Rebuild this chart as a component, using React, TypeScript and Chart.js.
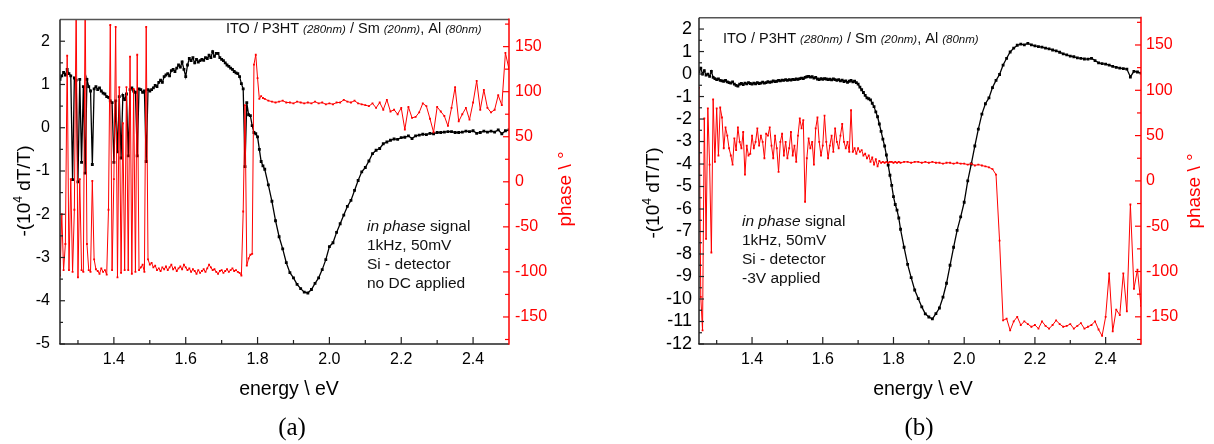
import React, { useEffect, useRef } from "react";
import { Chart, registerables } from "chart.js";

Chart.register(...registerables);

// ---------------- data ----------------
const energy = [
  1.25, 1.255, 1.26, 1.265, 1.27, 1.275, 1.28, 1.285, 1.29, 1.295,
  1.3, 1.305, 1.31, 1.315, 1.32, 1.325, 1.33, 1.335, 1.34, 1.345,
  1.35, 1.355, 1.36, 1.365, 1.37, 1.375, 1.38, 1.385, 1.39, 1.395,
  1.4, 1.405, 1.41, 1.415, 1.42, 1.425, 1.43, 1.435, 1.44, 1.445,
  1.45, 1.455, 1.46, 1.465, 1.47, 1.475, 1.48, 1.485, 1.49, 1.495,
  1.5, 1.505, 1.51, 1.515, 1.52, 1.525, 1.53, 1.535, 1.54, 1.545,
  1.55, 1.555, 1.56, 1.565, 1.57, 1.575, 1.58, 1.585, 1.59, 1.595,
  1.6, 1.605, 1.61, 1.615, 1.62, 1.625, 1.63, 1.635, 1.64, 1.645,
  1.65, 1.655, 1.66, 1.665, 1.67, 1.675, 1.68, 1.685, 1.69, 1.695,
  1.7, 1.705, 1.71, 1.715, 1.72, 1.725, 1.73, 1.735, 1.74, 1.745,
  1.75, 1.755, 1.76, 1.765, 1.77, 1.775, 1.78, 1.785, 1.79, 1.795,
  1.8, 1.805, 1.81, 1.815, 1.82,
  1.83, 1.84, 1.85, 1.86, 1.87, 1.88, 1.89,
  1.9, 1.91, 1.92, 1.93, 1.94, 1.95, 1.96, 1.97, 1.98, 1.99,
  2.0, 2.01, 2.02, 2.03, 2.04, 2.05, 2.06, 2.07, 2.08, 2.09,
  2.1, 2.11, 2.12, 2.13, 2.14, 2.15, 2.16, 2.17, 2.18, 2.19,
  2.2, 2.21, 2.22, 2.23, 2.24, 2.25, 2.26, 2.27, 2.28, 2.29,
  2.3, 2.31, 2.32, 2.33, 2.34, 2.35, 2.36, 2.37, 2.38, 2.39,
  2.4, 2.41, 2.42, 2.43, 2.44, 2.45, 2.46, 2.47, 2.48, 2.49,
  2.5,
];

// panel (a): -(10^4 dT/T), no DC applied
const dtA = [
  1.12, 1.2, 1.28, 1.22, 1.35, 1.25, 1.2, -1.2, 1.15, 1.1,
  -1.25, 1.12, -0.8, 0.95, -1.05, 1.12, 0.95, 0.85, -0.85, 0.9,
  0.95, 0.88, 0.92, 0.85, 0.8, 0.78, 0.72, 0.7, 0.62, 0.58,
  -0.8, 0.62, -0.56, 0.72, -0.7, 0.75, 0.65, 0.78, -0.65, 0.88,
  0.92, 0.85, 0.82, -0.65, 0.9, 0.88, 0.82, 0.85, -0.78, 0.88,
  0.85, 0.88, 0.92, 0.98, 0.95, 1.05, 1.1, 1.05, 1.18, 1.22,
  1.25, 1.2, 1.32, 1.35, 1.3, 1.38, 1.45, 1.4, 1.52, 1.35,
  1.18, 1.45, 1.6, 1.55, 1.62, 1.5, 1.58, 1.52, 1.55, 1.58,
  1.56, 1.62, 1.6, 1.68, 1.62, 1.76, 1.65, 1.72, 1.72, 1.62,
  1.58, 1.55, 1.5, 1.45, 1.42, 1.38, 1.35, 1.3, 1.27, 1.25,
  1.18, 1.02, 0.9, -0.9, 0.58, 0.3, 0.28, 0.05, -0.11, -0.14,
  -0.21, -0.5, -0.78, -0.88, -0.96,
  -1.32, -1.7, -2.15, -2.52, -2.8, -3.12, -3.35,
  -3.47, -3.62, -3.72, -3.8, -3.82, -3.74, -3.6, -3.47, -3.28, -3.05,
  -2.75, -2.66, -2.42, -2.22, -2.02, -1.82, -1.68, -1.45, -1.22, -1.02,
  -0.92, -0.77, -0.6, -0.52, -0.48, -0.37, -0.33, -0.29, -0.26, -0.27,
  -0.23, -0.22, -0.19, -0.25, -0.19, -0.17, -0.15, -0.16, -0.13, -0.14,
  -0.11, -0.11, -0.1, -0.09, -0.09, -0.11, -0.11, -0.1, -0.08, -0.09,
  -0.07, -0.13, -0.11, -0.08, -0.1, -0.08, -0.1, -0.05, -0.14, -0.07,
  -0.05,
];

// panel (a): phase in degrees
const phaseA = [
  -104, -36, -98, -69, 140, -98, 3, -100, -31, 200,
  -106, 3, -98, -100, 200, -69, -98, -100, 1, -86,
  -97, -99, -102, -96, -100, -98, -103, -31, 174, -98,
  3, 172, -106, 105, -101, 65, -98, 105, -98, 139,
  -102, 103, -100, 141, -98, -95, -92, -100, 172, -86,
  -92, -90, -95, -93, -98, -96, -99, -95, -97, -94,
  -98, -95, -92, -97, -95, -99, -96, -94, -97, -92,
  -95, -98, -96, -100, -97, -99, -102, -98, -101, -99,
  -97, -100, -96, -92, -95, -98, -97, -100, -102, -99,
  -98, -101, -99, -97, -100, -98, -96, -99, -98, -100,
  -101, -104, -33, 85, -93, -85, -81, -80, 130, 141,
  115, 92, 95, 93, 92,
  90, 89, 88, 89, 90, 88, 88,
  87, 89, 88, 87, 88, 87, 89, 87, 88, 86,
  87, 86, 88, 88, 91, 89, 88, 90, 87, 86,
  85, 84, 87, 82, 88, 80, 91, 78, 80, 75,
  82, 58, 83, 71, 72, 77, 87, 84, 70, 55,
  83, 78, 73, 62, 82, 105, 67, 75, 82, 69,
  88, 112, 80, 102, 82, 77, 80, 96, 85, 143,
  125,
];

// panel (b): -(10^4 dT/T), -3V applied
const dtB = [
  0.1, 0.26, 0.0, 0.15, -0.05, 0.0, -0.1, 0.12, -0.15, -0.2,
  -0.25, -0.22, -0.28, -0.3, -0.32, -0.28, -0.35, -0.38, -0.4, -0.35,
  -0.45, -0.5, -0.54, -0.45, -0.42, -0.47, -0.4, -0.44, -0.38, -0.42,
  -0.45, -0.4, -0.43, -0.38, -0.42, -0.4, -0.36, -0.4, -0.38, -0.34,
  -0.37, -0.35, -0.3, -0.34, -0.32, -0.28, -0.3, -0.27, -0.28, -0.25,
  -0.28, -0.25, -0.27, -0.24, -0.25, -0.22, -0.24, -0.2, -0.18, -0.2,
  -0.15, -0.12, -0.1, -0.14, -0.12, -0.18, -0.15, -0.22, -0.25, -0.2,
  -0.23, -0.2, -0.22, -0.25, -0.23, -0.26, -0.22, -0.25, -0.28, -0.25,
  -0.3, -0.27, -0.33, -0.3, -0.37, -0.32, -0.28, -0.35, -0.32, -0.38,
  -0.45, -0.58, -0.7, -0.82, -0.95, -1.06, -1.1, -1.15, -1.3, -1.45,
  -1.68, -1.9, -2.22, -2.55, -2.89, -3.2, -3.6, -4.05, -4.5, -4.95,
  -5.45, -5.8, -6.05, -6.4, -6.9,
  -7.7, -8.46, -9.05, -9.6, -9.98, -10.35, -10.66,
  -10.8, -10.88, -10.65, -10.4, -9.92, -9.3, -8.5, -7.7, -6.95, -6.35,
  -5.7, -4.75, -4.0, -3.2, -2.45, -1.78, -1.32, -1.06, -0.6, -0.28,
  -0.02, 0.4, 0.7, 0.98, 1.15, 1.28, 1.33, 1.3, 1.36, 1.3,
  1.25, 1.22, 1.2, 1.15, 1.12, 1.07, 1.03, 0.97, 0.9, 0.85,
  0.8, 0.77, 0.72, 0.7, 0.67, 0.66, 0.7, 0.6, 0.5, 0.46,
  0.44, 0.4, 0.34, 0.3, 0.26, 0.24, 0.22, -0.13, 0.12, 0.09,
  0.04,
];

// panel (b): phase in degrees
const phaseB = [
  103, -128, -165, 69, -64, 80, 18, -79, 90, 21,
  80, 28, 81, 70, 36, 59, 50, 36, 28, 18,
  47, 34, 59, 43, 36, 54, 7, 39, 28, 30,
  50, 36, 43, 58, 39, 50, 43, 25, 52, 50,
  59, 39, 25, 50, 36, 10, 43, 52, 28, 43,
  25, 36, 54, 28, 39, 21, 50, 69, 58, 67,
  -23, 25, 47, 36, 43, 18, 58, 70, 43, 28,
  39, 72, 43, 25, 39, 50, 32, 58, 43, 36,
  50, 63, 43, 36, 43, 32, 78, 32, 36, 30,
  36, 32, 34, 28, 30, 25, 28, 21, 26, 18,
  24, 16, 22, 20, 21, 20, 21, 20, 21, 21,
  20, 21, 20, 21, 20,
  21, 21, 20, 21, 21, 20, 21,
  20, 21, 20, 20, 19, 20, 20, 19, 20, 19,
  19, 18, 19, 17, 18, 17, 16, 15, 13, 7,
  -66, -154, -152, -165, -155, -150, -159, -155, -158, -161,
  -159, -163, -155, -160, -163, -159, -154, -158, -161, -160,
  -158, -163, -160, -157, -163, -161, -159, -155, -164, -171,
  -150, -102, -166, -142, -148, -102, -144, -26, -119, -98,
  -138,
];

// tick values / labels
const xTicks = [1.4, 1.6, 1.8, 2.0, 2.2, 2.4];
const xMinorTicks = [1.3, 1.5, 1.7, 1.9, 2.1, 2.3];
const leftTicksA = [-5, -4, -3, -2, -1, 0, 1, 2];
const leftMinorA = [-4.5, -3.5, -2.5, -1.5, -0.5, 0.5, 1.5];
const leftTicksB = [-12, -11, -10, -9, -8, -7, -6, -5, -4, -3, -2, -1, 0, 1, 2];
const leftMinorB = [-11.5, -10.5, -9.5, -8.5, -7.5, -6.5, -5.5, -4.5, -3.5, -2.5, -1.5, -0.5, 0.5, 1.5];
const phaseTicks = [-150, -100, -50, 0, 50, 100, 150];
const phaseMinorTicks = [-175, -125, -75, -25, 25, 75, 125, 175];

type Seg = { t: string; it?: boolean; size?: number; dy?: number };

const headerText: Seg[] = [
  { t: "ITO / P3HT " },
  { t: "(280nm)", it: true, size: 11.5 },
  { t: " / Sm " },
  { t: "(20nm)", it: true, size: 11.5 },
  { t: ", Al " },
  { t: "(80nm)", it: true, size: 11.5 },
];
const notesA: Seg[][] = [
  [{ t: "in phase", it: true }, { t: " signal" }],
  [{ t: "1kHz, 50mV" }],
  [{ t: "Si - detector" }],
  [{ t: "no DC applied" }],
];
const notesB: Seg[][] = [
  [{ t: "in phase", it: true }, { t: " signal" }],
  [{ t: "1kHz, 50mV" }],
  [{ t: "Si - detector" }],
  [{ t: "-3V applied" }],
];
const leftTitle: Seg[] = [{ t: "-(10" }, { t: "4", size: 12, dy: -8 }, { t: " dT/T)" }];
const rightTitle: Seg[] = [{ t: "phase \\ °" }];
const xTitle: Seg[] = [{ t: "energy \\ eV" }];

// ---------------- drawing ----------------
const FONT = '"Liberation Sans", Arial, Helvetica, sans-serif';
const SERIF = '"Liberation Serif", "Times New Roman", serif';
const RED = "#ff0000";
const W = 607;
const H = 444;

function drawSegs(
  ctx: CanvasRenderingContext2D,
  segs: Seg[],
  x: number,
  y: number,
  base: number,
  align: "left" | "center",
  color: string
) {
  const fontOf = (s: Seg) => `${s.it ? "italic " : ""}${s.size ?? base}px ${FONT}`;
  let total = 0;
  const widths = segs.map((s) => {
    ctx.font = fontOf(s);
    const w = ctx.measureText(s.t).width;
    total += w;
    return w;
  });
  let cx = align === "center" ? x - total / 2 : x;
  ctx.fillStyle = color;
  ctx.textAlign = "left";
  ctx.textBaseline = "alphabetic";
  segs.forEach((s, i) => {
    ctx.font = fontOf(s);
    ctx.fillText(s.t, cx, y + (s.dy ?? 0));
    cx += widths[i];
  });
}

type PanelCfg = {
  dt: number[];
  phase: number[];
  yMin: number;
  leftTicks: number[];
  leftMinor: number[];
  left: number;
  right: number;
  top: number;
  leftFont: number;
  leftPad: number;
  rightPad: number;
  leftTitlePos: [number, number];
  rightTitlePos: [number, number];
  xTitleX: number;
  label: string;
  labelX: number;
  headerPos: [number, number];
  notesPos: [number, number];
  notes: Seg[][];
};

const panelA: PanelCfg = {
  dt: dtA,
  phase: phaseA,
  yMin: -5,
  leftTicks: leftTicksA,
  leftMinor: leftMinorA,
  left: 60,
  right: 509,
  top: 9,
  leftFont: 16,
  leftPad: 10,
  rightPad: 6,
  leftTitlePos: [30, 191],
  rightTitlePos: [571, 189],
  xTitleX: 289,
  label: "(a)",
  labelX: 292,
  headerPos: [226, 32.5],
  notesPos: [367, 231],
  notes: notesA,
};

const panelB: PanelCfg = {
  dt: dtB,
  phase: phaseB,
  yMin: -12,
  leftTicks: leftTicksB,
  leftMinor: leftMinorB,
  left: 92,
  right: 534,
  top: 15,
  leftFont: 18,
  leftPad: 7,
  rightPad: 5,
  leftTitlePos: [52, 193],
  rightTitlePos: [593, 191],
  xTitleX: 316,
  label: "(b)",
  labelX: 312,
  headerPos: [116, 43],
  notesPos: [135, 225.5],
  notes: notesB,
};

function makeChart(canvas: HTMLCanvasElement, cfg: PanelCfg) {
  const decor = {
    id: "decor",
    afterDraw(chart: any) {
      const ctx: CanvasRenderingContext2D = chart.ctx;
      const ca = chart.chartArea;
      const sx = chart.scales.x;
      const sy = chart.scales.y;
      const sy2 = chart.scales.y2;
      const L = ca.left, R = ca.right, T = ca.top, B = ca.bottom;
      const seg = (x1: number, y1: number, x2: number, y2: number) => {
        ctx.beginPath();
        ctx.moveTo(x1, y1);
        ctx.lineTo(x2, y2);
        ctx.stroke();
      };
      ctx.save();
      ctx.lineWidth = 1.2;
      ctx.strokeStyle = "#222";
      xTicks.forEach((v) => {
        const p = sx.getPixelForValue(v);
        seg(p, B, p, B - 7);
      });
      xMinorTicks.forEach((v) => {
        const p = sx.getPixelForValue(v);
        seg(p, B, p, B - 4);
      });
      cfg.leftTicks.forEach((v) => {
        const p = sy.getPixelForValue(v);
        seg(L, p, L + 5, p);
      });
      cfg.leftMinor.forEach((v) => {
        const p = sy.getPixelForValue(v);
        seg(L, p, L + 3, p);
      });
      ctx.strokeStyle = RED;
      phaseTicks.forEach((v) => {
        const p = sy2.getPixelForValue(v);
        seg(R, p, R - 6, p);
      });
      phaseMinorTicks.forEach((v) => {
        const p = sy2.getPixelForValue(v);
        seg(R, p, R - 4, p);
      });
      // frame
      ctx.lineWidth = 1.5;
      ctx.strokeStyle = "#555";
      seg(L, T, R, T);
      ctx.strokeStyle = "#222";
      seg(L, T, L, B);
      seg(L - 0.75, B, R, B);
      ctx.strokeStyle = RED;
      seg(R, T - 1, R, B + 0.75);

      // axis titles
      ctx.save();
      ctx.translate(cfg.leftTitlePos[0], cfg.leftTitlePos[1]);
      ctx.rotate(-Math.PI / 2);
      drawSegs(ctx, leftTitle, 0, 0, 19, "center", "#000");
      ctx.restore();
      ctx.save();
      ctx.translate(cfg.rightTitlePos[0], cfg.rightTitlePos[1]);
      ctx.rotate(-Math.PI / 2);
      drawSegs(ctx, rightTitle, 0, 0, 19, "center", RED);
      ctx.restore();
      drawSegs(ctx, xTitle, cfg.xTitleX, 395, 19.5, "center", "#000");

      // panel label
      ctx.font = `25px ${SERIF}`;
      ctx.fillStyle = "#000";
      ctx.textAlign = "center";
      ctx.textBaseline = "alphabetic";
      ctx.fillText(cfg.label, cfg.labelX, 435);

      // annotations
      drawSegs(ctx, headerText, cfg.headerPos[0], cfg.headerPos[1], 14.5, "left", "#111");
      cfg.notes.forEach((line, i) => {
        drawSegs(ctx, line, cfg.notesPos[0], cfg.notesPos[1] + i * 19, 15.5, "left", "#111");
      });
      ctx.restore();
    },
  };

  return new Chart(canvas, {
    type: "line",
    data: {
      datasets: [
        {
          label: "phase",
          data: energy.map((e, i) => ({ x: e, y: cfg.phase[i] })),
          yAxisID: "y2",
          xAxisID: "x",
          borderColor: RED,
          backgroundColor: RED,
          borderWidth: 1,
          pointRadius: 1.3,
          pointStyle: "rect",
          pointBackgroundColor: RED,
          pointBorderWidth: 0,
          tension: 0,
          order: 0,
        },
        {
          label: "dT/T",
          data: energy.map((e, i) => ({ x: e, y: cfg.dt[i] })),
          yAxisID: "y",
          xAxisID: "x",
          borderColor: "#000",
          backgroundColor: "#000",
          borderWidth: 1.3,
          pointRadius: 2,
          pointStyle: "rect",
          pointBackgroundColor: "#000",
          pointBorderWidth: 0,
          tension: 0,
          order: 1,
        },
      ],
    } as any,
    options: {
      responsive: false,
      animation: false,
      devicePixelRatio: 1,
      layout: { padding: { top: cfg.top, left: 0, right: 0, bottom: 0 } },
      plugins: {
        legend: { display: false },
        tooltip: { enabled: false },
        title: { display: false },
      },
      scales: {
        x: {
          type: "linear",
          position: "bottom",
          min: 1.25,
          max: 2.5,
          grid: { display: false, drawTicks: false },
          border: { display: false },
          afterFit: (s: any) => {
            s.height = H - 344;
          },
          afterBuildTicks: (s: any) => {
            s.ticks = xTicks.map((v) => ({ value: v }));
          },
          ticks: {
            padding: 6,
            autoSkip: false,
            maxRotation: 0,
            color: "#000",
            font: { family: FONT, size: 16 },
            callback: (v: any) => Number(v).toFixed(1),
          },
        },
        y: {
          type: "linear",
          position: "left",
          min: cfg.yMin,
          max: 2.5,
          grid: { display: false, drawTicks: false },
          border: { display: false },
          afterFit: (s: any) => {
            s.width = cfg.left;
          },
          afterBuildTicks: (s: any) => {
            s.ticks = cfg.leftTicks.map((v) => ({ value: v }));
          },
          ticks: {
            padding: cfg.leftPad,
            autoSkip: false,
            color: "#000",
            font: { family: FONT, size: cfg.leftFont },
            callback: (v: any) => String(v),
          },
        },
        y2: {
          type: "linear",
          position: "right",
          min: -180,
          max: 180,
          grid: { display: false, drawTicks: false },
          border: { display: false },
          afterFit: (s: any) => {
            s.width = W - cfg.right;
          },
          afterBuildTicks: (s: any) => {
            s.ticks = phaseTicks.map((v) => ({ value: v }));
          },
          ticks: {
            padding: cfg.rightPad,
            autoSkip: false,
            color: RED,
            font: { family: FONT, size: 16 },
            callback: (v: any) => String(v),
          },
        },
      },
    } as any,
    plugins: [decor],
  });
}

export default function App() {
  const refA = useRef<HTMLCanvasElement>(null);
  const refB = useRef<HTMLCanvasElement>(null);

  useEffect(() => {
    const a = makeChart(refA.current!, panelA);
    const b = makeChart(refB.current!, panelB);
    return () => {
      a.destroy();
      b.destroy();
    };
  }, []);

  return (
    <div style={{ position: "absolute", left: 0, top: 0, width: 1214, height: 444, background: "#fff" }}>
      <canvas
        ref={refA}
        width={W}
        height={H}
        style={{ position: "absolute", left: 0, top: 0, width: W, height: H }}
      />
      <canvas
        ref={refB}
        width={W}
        height={H}
        style={{ position: "absolute", left: W, top: 0, width: W, height: H }}
      />
    </div>
  );
}
